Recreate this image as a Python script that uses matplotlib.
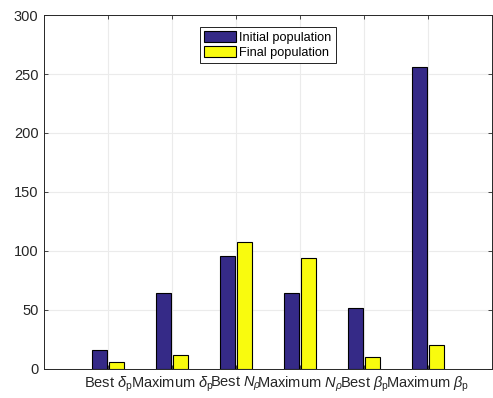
import numpy as np
import matplotlib
matplotlib.use('Agg')
import matplotlib.pyplot as plt

plt.rcParams['font.family'] = ['Liberation Sans', 'DejaVu Sans']
plt.rcParams['mathtext.fontset'] = 'custom'
plt.rcParams['mathtext.rm'] = 'Liberation Sans'
plt.rcParams['mathtext.it'] = 'Liberation Sans:italic'

# data
labels = [r'Best $\delta_\mathrm{p}$', r'Maximum $\delta_\mathrm{p}$',
          r'Best $N_\rho$', r'Maximum $N_\rho$',
          r'Best $\beta_\mathrm{p}$', r'Maximum $\beta_\mathrm{p}$']
initial_pop = [16, 64, 96, 64, 52, 256]
final_pop = [6, 12, 108, 94, 10, 20]

blue = '#352A87'
yellow = '#F9FB0E'
axcol = '#262626'

fig = plt.figure(figsize=(4.93, 3.98), dpi=100)
ax = fig.add_axes([0.0893, 0.0729, 0.9087, 0.8894])

x = np.arange(1, len(labels) + 1)
w = 0.24
ax.bar(x - 0.135, initial_pop, w, color=blue, edgecolor='black', linewidth=0.8,
       label='Initial population', zorder=3)
ax.bar(x + 0.135, final_pop, w, color=yellow, edgecolor='black', linewidth=0.8,
       label='Final population', zorder=3)

ax.set_xlim(0, 7)
ax.set_ylim(0, 300)
ax.set_xticks(x)
ax.set_xticklabels(labels)
ax.set_yticks(np.arange(0, 301, 50))
ax.grid(True, color='#ebebeb', linewidth=0.8, zorder=0)
ax.set_axisbelow(True)
ax.tick_params(direction='in', length=3, width=0.6, colors=axcol, labelsize=10.5,
               top=True, right=True, pad=4)
for s in ax.spines.values():
    s.set_color(axcol)
    s.set_linewidth(0.7)

leg = ax.legend(loc='upper center', bbox_to_anchor=(0.5, 0.965), fontsize=9.2,
                frameon=True, fancybox=False, edgecolor='black', framealpha=1,
                handlelength=2.5, handleheight=0.9, handletextpad=0.25,
                labelspacing=0.2, borderpad=0.3, borderaxespad=0)
leg.get_frame().set_linewidth(0.6)

fig.savefig('out.png', dpi=100)
